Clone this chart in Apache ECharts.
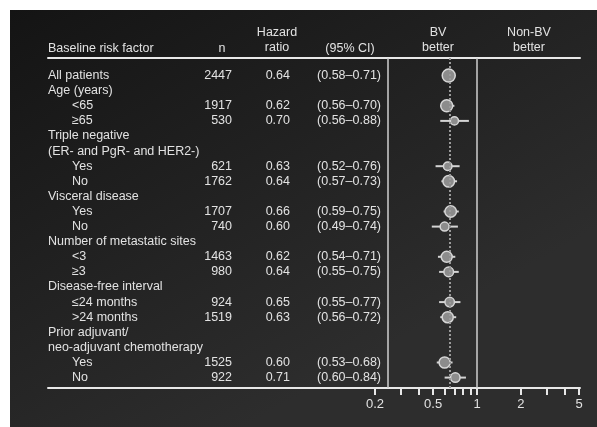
<!DOCTYPE html>
<html>
<head>
<meta charset="utf-8">
<script src="https://cdn.jsdelivr.net/npm/echarts@6/dist/echarts.min.js"></script>
<style>
html, body { margin: 0; padding: 0; background: #fff; }
#chartForest { width: 597px; height: 427px; }
</style>
</head>
<body>
<div id="chartForest"></div>
<script>
// table rows, top to bottom
var rowLabels = ['All patients', 'Age (years)', '<65', '≥65', 'Triple negative', '(ER- and PgR- and HER2-)',
    'Yes', 'No', 'Visceral disease', 'Yes', 'No', 'Number of metastatic sites', '<3', '≥3',
    'Disease-free interval', '≤24 months', '>24 months', 'Prior adjuvant/', 'neo-adjuvant chemotherapy', 'Yes', 'No'];
var rowIsSub = [false, false, true, true, false, false, true, true, false, true, true, false, true, true,
    false, true, true, false, false, true, true];
// null = heading row, no estimate
var nPatients = [2447, null, 1917, 530, null, null, 621, 1762, null, 1707, 740, null, 1463, 980,
    null, 924, 1519, null, null, 1525, 922];
var hazardRatio = [0.64, null, 0.62, 0.70, null, null, 0.63, 0.64, null, 0.66, 0.60, null, 0.62, 0.64,
    null, 0.65, 0.63, null, null, 0.60, 0.71];
var ciLower = [0.58, null, 0.56, 0.56, null, null, 0.52, 0.57, null, 0.59, 0.49, null, 0.54, 0.55,
    null, 0.55, 0.56, null, null, 0.53, 0.60];
var ciUpper = [0.71, null, 0.70, 0.88, null, null, 0.76, 0.73, null, 0.75, 0.74, null, 0.71, 0.75,
    null, 0.77, 0.72, null, null, 0.68, 0.84];
var tickLabels = [0.2, 0.5, 1, 2, 5];
var tickMarks = [0.2, 0.3, 0.4, 0.5, 0.6, 0.7, 0.8, 0.9, 1, 2, 3, 4, 5];
var overallHR = 0.64;
var plotEdgeHR = 0.245;

var TXT = '#e2e2e2';
var FONT = '"Liberation Sans", Arial, sans-serif';
var FS = 12.5;
var rowMin = -1.166, rowMax = 20.69;

function lg(v) { return Math.log10(v); }

var allRows = rowLabels.map(function(l, i) { return i; });
var estRows = allRows.filter(function(i) { return hazardRatio[i] !== null; });

var pointData = estRows.map(function(i) { return [lg(hazardRatio[i]), i, nPatients[i]]; });
var ciData = estRows.map(function(i) { return [lg(ciLower[i]), lg(ciUpper[i]), i]; });

function tableAxis(offset, align, values, formatter) {
    return {
        gridIndex: 1, type: 'value', inverse: true, min: rowMin, max: rowMax,
        position: 'left', offset: offset,
        axisLine: { show: false }, axisTick: { show: false }, splitLine: { show: false },
        axisLabel: {
            customValues: values, align: align, margin: 0,
            color: TXT, fontSize: FS, fontFamily: FONT,
            formatter: formatter,
            rich: { sub: { padding: [0, 0, 0, 24], color: TXT, fontSize: FS, fontFamily: FONT } }
        }
    };
}

function headText(x, y, text, align) {
    return {
        type: 'text', x: x, y: y, silent: true,
        style: {
            text: text, fill: TXT, font: FS + 'px ' + FONT, lineHeight: 15,
            textAlign: align, textVerticalAlign: 'middle'
        }
    };
}

function ruleAxis(pos) {
    return {
        gridIndex: 1, type: 'value', min: 0, max: 1, position: pos,
        axisLine: { show: true, onZero: false, lineStyle: { color: '#e8e8e8', width: 2 } },
        axisTick: { show: false }, axisLabel: { show: false }, splitLine: { show: false }
    };
}

var chart = echarts.init(document.getElementById('chartForest'));

var option = {
    backgroundColor: '#ffffff',
    animation: false,
    graphic: [
        {
            type: 'rect', z: -100, silent: true,
            shape: { x: 10, y: 10, width: 587, height: 417 },
            style: {
                fill: new echarts.graphic.LinearGradient(0, 0, 0.4, 1, [
                    { offset: 0, color: '#141414' },
                    { offset: 1, color: '#2d2d2d' }
                ])
            }
        },
        headText(48, 49, 'Baseline risk factor', 'left'),
        headText(222, 49, 'n', 'center'),
        headText(277, 40.5, 'Hazard\nratio', 'center'),
        headText(350, 49, '(95% CI)', 'center'),
        headText(438, 40.5, 'BV\nbetter', 'center'),
        headText(529, 40.5, 'Non-BV\nbetter', 'center')
    ],
    grid: [
        { left: 375, right: 18, top: 58, bottom: 39 },
        { left: 48, right: 17, top: 58, bottom: 39 }
    ],
    xAxis: [
        {
            gridIndex: 0, type: 'value', min: lg(0.2), max: lg(5),
            axisLine: { show: true, onZero: false, lineStyle: { color: '#e8e8e8', width: 2 } },
            axisTick: { show: true, customValues: tickMarks.map(lg), length: 7, lineStyle: { color: '#e8e8e8', width: 2 } },
            axisLabel: {
                customValues: tickLabels.map(lg), margin: 10,
                color: TXT, fontSize: 13, fontFamily: FONT,
                formatter: function(v) { return String(Math.round(Math.pow(10, v) * 10) / 10); }
            },
            splitLine: { show: false }
        },
        ruleAxis('bottom'),
        ruleAxis('top')
    ],
    yAxis: [
        {
            gridIndex: 0, type: 'value', inverse: true, min: rowMin, max: rowMax, show: false
        },
        tableAxis(0, 'left', allRows, function(v) {
            var t = rowLabels[v];
            return rowIsSub[v] ? '{sub|' + t + '}' : t;
        }),
        tableAxis(48 - 232, 'right', estRows, function(v) { return String(nPatients[v]); }),
        tableAxis(48 - 290, 'right', estRows, function(v) { return hazardRatio[v].toFixed(2); }),
        tableAxis(48 - 381, 'right', estRows, function(v) {
            return '(' + ciLower[v].toFixed(2) + '–' + ciUpper[v].toFixed(2) + ')';
        })
    ],
    series: [
        {
            type: 'custom',
            xAxisIndex: 0, yAxisIndex: 0,
            z: 2,
            encode: { x: [0, 1], y: 2 },
            renderItem: function(params, api) {
                var a = api.coord([api.value(0), api.value(2)]);
                var b = api.coord([api.value(1), api.value(2)]);
                return {
                    type: 'line',
                    shape: { x1: a[0], y1: a[1], x2: b[0], y2: b[1] },
                    style: { stroke: '#d4d4d4', lineWidth: 2 }
                };
            },
            data: ciData,
            markLine: {
                silent: true, symbol: 'none', label: { show: false },
                data: [
                    { xAxis: lg(overallHR), lineStyle: { color: '#9a9a9a', width: 2, type: 'dotted' } },
                    { xAxis: 0, lineStyle: { color: '#cfcfcf', width: 1.5, type: 'solid' } },
                    { xAxis: lg(plotEdgeHR), lineStyle: { color: '#cfcfcf', width: 1.5, type: 'solid' } }
                ]
            }
        },
        {
            type: 'scatter',
            xAxisIndex: 0, yAxisIndex: 0,
            z: 3,
            symbol: 'circle',
            symbolSize: function(val) { return 4 + 9 * Math.sqrt(val[2] / 2447); },
            itemStyle: { color: '#8c8c8c', borderColor: '#d6d6d6', borderWidth: 1.5, opacity: 1 },
            data: pointData
        }
    ]
};

chart.setOption(option);
</script>
</body>
</html>
